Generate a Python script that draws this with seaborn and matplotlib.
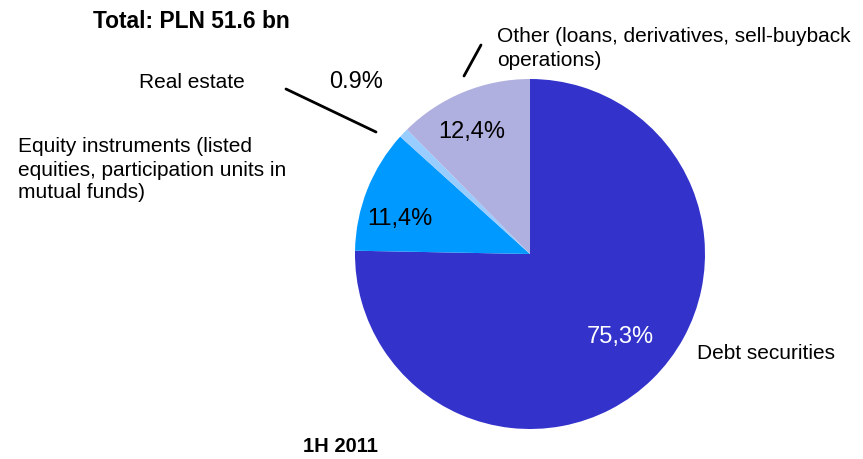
import matplotlib
matplotlib.use("Agg")
import matplotlib.pyplot as plt
import seaborn as sns

# data
categories = ["Debt securities", "Equity instruments", "Real estate", "Other"]
shares = [75.3, 11.4, 0.9, 12.4]
pct_labels = ["75,3%", "11,4%", "0.9%", "12,4%"]
colors = ["#3333CC", "#0099FF", "#99CCFF", "#B0B0E0"]

sns.set_theme(style="white")
plt.rcParams['font.family'] = ['Liberation Sans', 'DejaVu Sans']
plt.rcParams['text.color'] = 'black'

W, H = 863, 460
fig = plt.figure(figsize=(W / 100, H / 100), dpi=100)
ax = fig.add_axes([0, 0, 1, 1])


def Y(y):
    # pixel row -> data y
    return H - y


cx, cy, r = 530, 255, 175
wedges, _ = ax.pie(shares, colors=sns.color_palette(colors), startangle=90, counterclock=False,
                   center=(cx, Y(cy)), radius=r, wedgeprops=dict(linewidth=0))
ax.set_xlim(0, W)
ax.set_ylim(0, H)
ax.set_aspect('equal')
ax.axis('off')

fs = 15
pfs = 17
ax.text(93, Y(21), "Total: PLN 51.6 bn", fontsize=16.4, fontweight='bold', ha='left', va='center')
ax.text(340, Y(447), "1H 2011", fontsize=14.5, fontweight='bold', ha='center', va='center')

ax.text(497, Y(36), "Other (loans, derivatives, sell-buyback", fontsize=fs, ha='left', va='center')
ax.text(497, Y(61), "operations)", fontsize=fs, ha='left', va='center')
ax.plot([464, 481], [Y(77), Y(46)], color='black', lw=2)

ax.text(192, Y(82), "Real estate", fontsize=fs, ha='center', va='center')
ax.text(356, Y(82), pct_labels[2], fontsize=pfs, ha='center', va='center')
ax.plot([286, 376], [Y(90), Y(133)], color='black', lw=2)

ax.text(18, Y(147), "Equity instruments (listed", fontsize=fs, ha='left', va='center')
ax.text(18, Y(170), "equities, participation units in", fontsize=fs, ha='left', va='center')
ax.text(18, Y(193), "mutual funds)", fontsize=fs, ha='left', va='center')

ax.text(472, Y(132), pct_labels[3], fontsize=pfs, ha='center', va='center')
ax.text(400, Y(219), pct_labels[1], fontsize=pfs, ha='center', va='center')
ax.text(620, Y(337), pct_labels[0], fontsize=pfs, color='white', ha='center', va='center')
ax.text(697, Y(354), "Debt securities", fontsize=fs, ha='left', va='center')

fig.savefig("out.png", dpi=100)
